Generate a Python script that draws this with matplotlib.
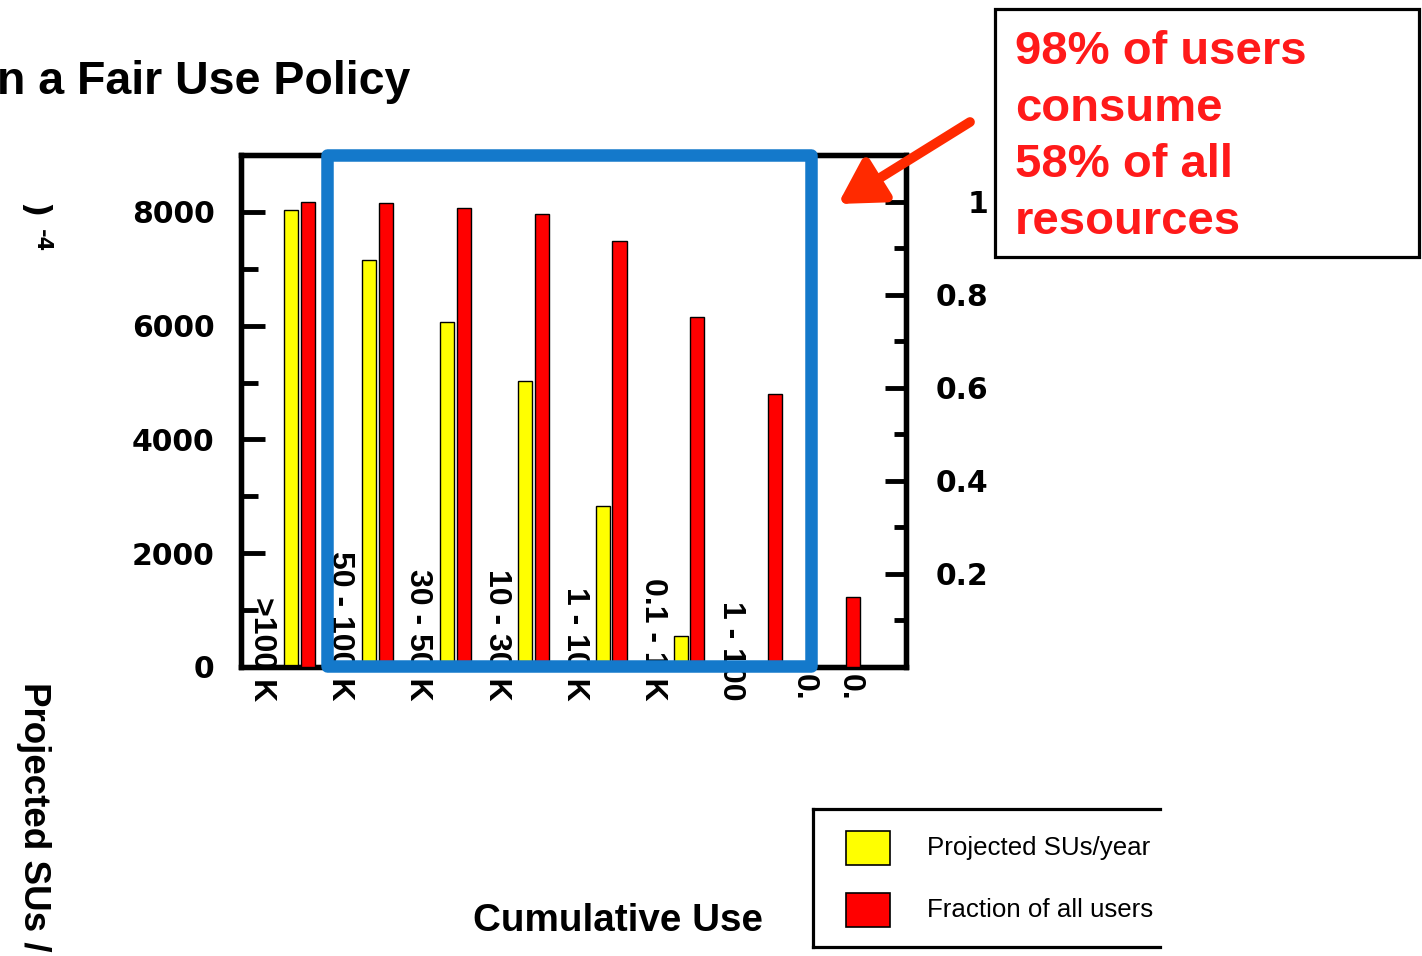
import numpy as np
import matplotlib
matplotlib.use("Agg")
import matplotlib.pyplot as plt
from matplotlib.patches import Rectangle, FancyArrowPatch
from matplotlib.lines import Line2D

# data
categories = [">100 K", "50 - 100 K", "30 - 50 K", "10 - 30 K", "1 - 10 K",
              "0.1 - 1 K", "1 - 100", "0.", "0."]
projected_sus = [8040, 7160, 6070, 5030, 2830, 545, 60, 5]
fraction_users = [1.0, 0.996, 0.987, 0.974, 0.916, 0.751, 0.587, 0.151]

W, H = 1422, 956

def fx(x):
    return x / W

def fy(y):
    return 1 - y / H

fig = plt.figure(figsize=(W / 100, H / 100), dpi=100)
fig.patch.set_facecolor("white")

# main axes
ax = fig.add_axes([fx(241), fy(667), fx(906) - fx(241), fy(155) - fy(667)])
ax2 = ax.twinx()

ind = np.arange(len(projected_sus))
width = 0.18
ax.bar(ind - 0.105, projected_sus, width, color="#ffff00", edgecolor="black", linewidth=1, zorder=3)
ax2.bar(ind + 0.105, fraction_users, width, color="#ff0000", edgecolor="black", linewidth=1, zorder=3)

ax.set_xlim(-0.75, 7.78)
ax.set_ylim(0, 9000)
ax2.set_ylim(0, 1.1)

ax.set_xticks([])
ax.set_yticks([0, 2000, 4000, 6000, 8000])
ax.set_yticks(np.arange(1000, 9000, 2000), minor=True)
ax2.set_yticks([0.2, 0.4, 0.6, 0.8, 1.0])
ax2.set_yticklabels(["0.2", "0.4", "0.6", "0.8", "1"])
ax2.set_yticks(np.arange(0.1, 1.0, 0.2), minor=True)

ax.tick_params(axis="y", which="major", direction="in", length=17, width=3.5,
               labelsize=21.5, pad=19)
ax.tick_params(axis="y", which="minor", direction="in", length=12, width=3.5)
ax2.tick_params(axis="y", which="major", direction="in", length=15, width=3.5,
                labelsize=21.5, pad=59)
ax2.tick_params(axis="y", which="minor", direction="in", length=9, width=3.5)
for lab in ax.get_yticklabels() + ax2.get_yticklabels():
    lab.set_fontweight("bold")
for lab in ax2.get_yticklabels():
    lab.set_horizontalalignment("right")

for a in (ax, ax2):
    for s in a.spines.values():
        s.set_linewidth(3.8)
        s.set_capstyle("projecting")

# rotated category labels, running down past the axis
label_x = [-0.48, 0.52, 1.52, 2.53, 3.53, 4.53, 5.53, 6.47, 7.06]
for x, name in zip(label_x, categories):
    ax.text(x, -0.066, name, transform=ax.get_xaxis_transform(), rotation=-90,
            ha="center", va="bottom", fontsize=23, fontweight="bold",
            family="Liberation Sans", zorder=1, clip_on=False)

# title, cut at the left edge of the slide
fig.text(fx(410), fy(82), "n a Fair Use Policy", ha="right", va="center",
         fontsize=33.5, fontweight="bold", family="Liberation Sans")

# axis labels
fig.text(fx(473), fy(921), "Cumulative Use", ha="left", va="center",
         fontsize=27.8, fontweight="bold", family="Liberation Sans")
fig.text(fx(33), fy(682), "Projected SUs /", rotation=-90, ha="center", va="top",
         fontsize=26.5, fontweight="bold", family="Liberation Sans")
fig.text(fx(33), fy(203), ")", rotation=-90, ha="center", va="top",
         fontsize=24, fontweight="bold", family="DejaVu Sans")
fig.text(fx(42), fy(229), "-4", rotation=-90, ha="center", va="top",
         fontsize=15, fontweight="bold", family="DejaVu Sans")

# blue highlight box
fig.add_artist(Rectangle((fx(327), fy(666)), fx(811) - fx(327), fy(155) - fy(666),
                         transform=fig.transFigure, fill=False, edgecolor="#1479cb",
                         linewidth=9, joinstyle="round", zorder=5))

# red callout box
fig.add_artist(Rectangle((fx(995), fy(257)), fx(1419) - fx(995), fy(9) - fy(257),
                         transform=fig.transFigure, fill=False, edgecolor="black",
                         linewidth=2.3, zorder=5))
fig.text(fx(1015), fy(30), "98% of users\nconsume\n58% of all\nresources",
         ha="left", va="top", color="#ff1a1a", fontsize=34, fontweight="bold",
         family="Liberation Sans", linespacing=1.37)

# arrow
fig.add_artist(FancyArrowPatch((fx(970), fy(122)), (fx(838), fy(204)),
                               transform=fig.transFigure,
                               arrowstyle="-|>,head_length=1.3,head_width=0.75",
                               mutation_scale=20, color="#ff2a00", linewidth=7,
                               shrinkA=0, shrinkB=0, zorder=6))

# legend, right edge cut off
lw = 2.3
for xs, ys in [((813, 1160), (809, 809)), ((813, 1160), (947, 947)), ((813, 813), (809, 947))]:
    fig.add_artist(Line2D([fx(xs[0]), fx(xs[1])], [fy(ys[0]), fy(ys[1])],
                          transform=fig.transFigure, color="black", linewidth=lw))
legend_names = ["Projected SUs/year", "Fraction of all users"]
legend_colors = ["#ffff00", "#ff0000"]
for i, (name, col) in enumerate(zip(legend_names, legend_colors)):
    top = 831 + 62 * i
    fig.add_artist(Rectangle((fx(846), fy(top + 34)), fx(890) - fx(846), fy(top) - fy(top + 34),
                             transform=fig.transFigure, facecolor=col,
                             edgecolor="black", linewidth=1.2))
    fig.text(fx(927), fy(top + 17), name, ha="left", va="center",
             fontsize=18.6, family="Liberation Sans")

fig.savefig("out.png", dpi=100)
